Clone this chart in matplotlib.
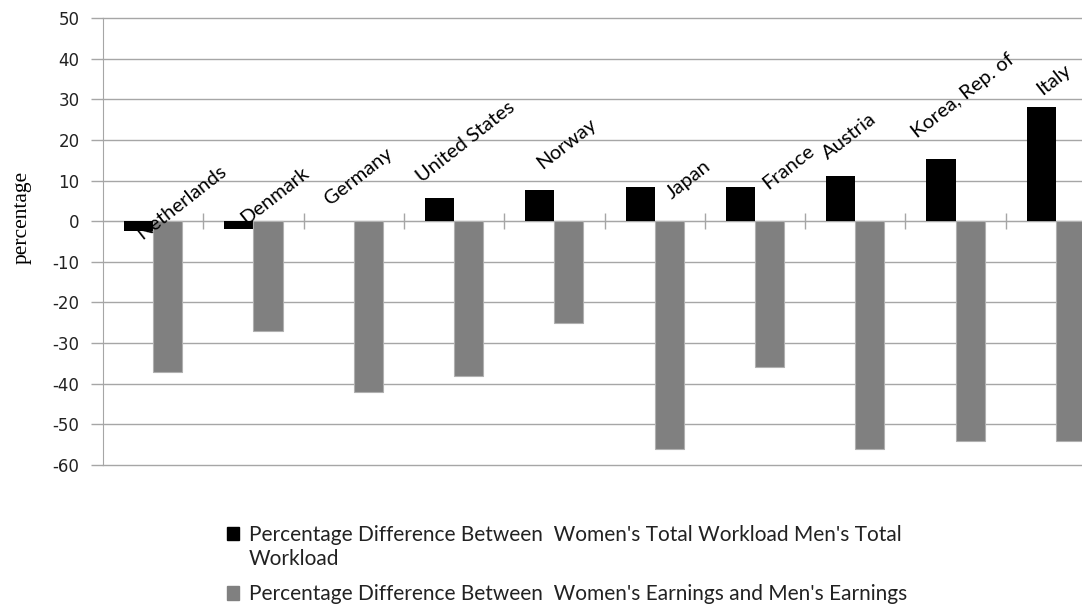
import matplotlib.pyplot as plt
from matplotlib.patches import Patch

plt.rcParams['axes.unicode_minus'] = False

# data
countries = ["Netherlands", "Denmark", "Germany", "United States", "Norway",
             "Japan", "France", "Austria", "Korea, Rep. of", "Italy"]
workload_diff = [-2.4, -2.0, 0.0, 5.8, 7.7, 8.3, 8.3, 11.2, 15.4, 28.0]
earnings_diff = [-37.0, -27.0, -42.0, -38.0, -25.0, -56.0, -36.0, -56.0, -54.0, -54.0]
yticks = list(range(-60, 51, 10))

# where each slanted country label starts (offset from the category, y in data units)
label_dx = [-0.11, -0.07, -0.24, -0.32, -0.12, 0.17, 0.13, -0.27, -0.38, -0.14]
label_y = [-4.7, -1.0, 3.9, 9.3, 12.6, 5.2, 7.6, 15.0, 20.4, 31.0]

leg1 = ["Percentage Difference Between  Women's Total Workload Men's Total", "Workload"]
leg2 = "Percentage Difference Between  Women's Earnings and Men's Earnings"

GRID = '#a6a6a6'

fig = plt.figure(figsize=(10.82, 6.10), dpi=100)
# the original is cropped on the right, so the axes run past the figure edge
ax = fig.add_axes([0.0952, 0.2377, 0.927, 0.7328])

x = list(range(len(countries)))
w = 0.29
ax.bar([i - w / 2 for i in x], workload_diff, width=w, color='black',
       linewidth=0, zorder=3)
ax.bar([i + w / 2 for i in x], earnings_diff, width=w, color='#808080',
       edgecolor='#b0b0b0', linewidth=0.8, zorder=3)

ax.set_xlim(-0.5, len(countries) - 0.5)
ax.set_ylim(-60, 50)
ax.set_yticks(yticks)
ax.yaxis.grid(True, color=GRID, linewidth=1.0, zorder=0)
for gl in ax.get_ygridlines():
    gl.set_clip_on(False)
ax.set_axisbelow(True)

# category axis sits on the zero line with crossing ticks between categories
ax.spines['bottom'].set_position(('data', 0))
ax.spines['bottom'].set_color(GRID)
ax.spines['left'].set_color(GRID)
ax.spines['top'].set_visible(False)
ax.spines['right'].set_visible(False)
ax.set_xticks([i + 0.5 for i in x])
ax.set_xticklabels([])
ax.tick_params(axis='x', direction='inout', length=11, color=GRID, width=1)
ax.tick_params(axis='y', direction='out', length=9, color=GRID, width=1,
               labelsize=12, labelcolor='#222222', pad=8)

for i, name in enumerate(countries):
    ax.text(i + label_dx[i], label_y[i], name, rotation=38, rotation_mode='anchor',
            ha='left', va='baseline', fontsize=14.5, family='Lato',
            color='black', zorder=4)

ax.set_ylabel('percentage', family='Liberation Serif', fontsize=15.5)
ax.yaxis.set_label_coords(-0.0808, 0.553)
ax.yaxis.label.set_verticalalignment('center')

# legend: first entry wraps onto a second line, square stays beside the first line
leg_style = dict(loc='upper left', frameon=False,
                 prop={'family': 'Lato', 'size': 15}, handlelength=0.6,
                 handleheight=0.6, handletextpad=0.45, borderpad=0)
blank = Patch(facecolor='none', edgecolor='none')
leg_a = fig.legend([Patch(facecolor='black', edgecolor='black'), blank], leg1,
                   bbox_to_anchor=(0.2, 0.157), labelspacing=0.2, **leg_style)
leg_b = fig.legend([Patch(facecolor='#808080', edgecolor='#808080')], [leg2],
                   bbox_to_anchor=(0.2, 0.059), **leg_style)
for lg in (leg_a, leg_b):
    for t in lg.get_texts():
        t.set_color('#222222')

fig.savefig('out.png', dpi=100)
